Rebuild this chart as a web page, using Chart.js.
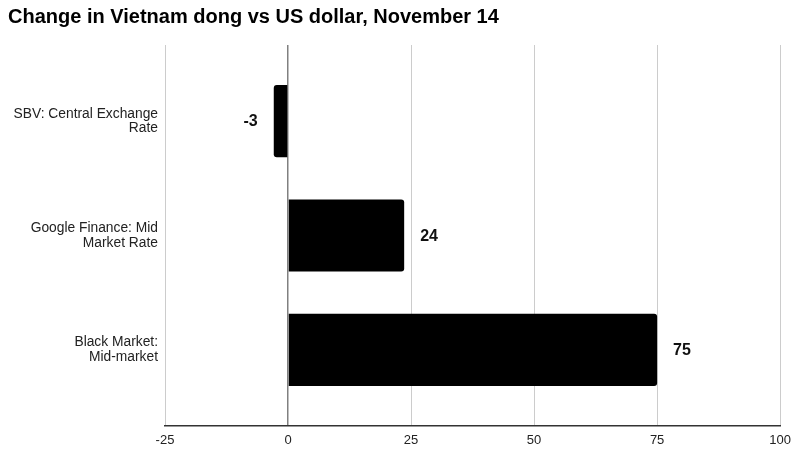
<!DOCTYPE html>
<html lang="en">
  <head>
    <meta charset="UTF-8" />
    <title>Change in Vietnam dong vs US dollar, November 14</title>
    <script src="https://cdn.jsdelivr.net/npm/chart.js"></script>
    <style>
      body { margin: 0; background: #fff; }
      #wrap { width: 798px; height: 453px; }
    </style>
  </head>
  <body>
    <div id="wrap">
      <canvas id="fxChart" width="798" height="453"></canvas>
    </div>

    <script>
      // data
      const categories = [
        ["SBV: Central Exchange", "Rate"],
        ["Google Finance: Mid", "Market Rate"],
        ["Black Market:", "Mid-market"],
      ];
      const changeValues = [-2.9, 23.6, 75];
      const xTicks = [-25, 0, 25, 50, 75, 100];

      const fontFamily = "'Liberation Sans', Arial, sans-serif";

      // value labels beside each bar
      const barLabels = {
        id: "barLabels",
        afterDatasetsDraw(chart) {
          const ctx = chart.ctx;
          const meta = chart.getDatasetMeta(0);
          ctx.save();
          ctx.font = "bold 16px " + fontFamily;
          ctx.fillStyle = "#111";
          ctx.textBaseline = "middle";
          meta.data.forEach((bar, i) => {
            const v = changeValues[i];
            const neg = v < 0;
            ctx.textAlign = neg ? "right" : "left";
            ctx.fillText(String(Math.round(v)), bar.x + (neg ? -16 : 16), bar.y + 1);
          });
          ctx.restore();
        },
      };

      new Chart(document.getElementById("fxChart"), {
        type: "bar",
        data: {
          labels: categories,
          datasets: [
            {
              data: changeValues,
              backgroundColor: "#000",
              borderRadius: 3,
              categoryPercentage: 0.63,
              barPercentage: 1,
            },
          ],
        },
        options: {
          indexAxis: "y",
          responsive: false,
          animation: false,
          layout: { padding: { left: 8, right: 17, bottom: 0 } },
          plugins: {
            legend: { display: false },
            tooltip: { enabled: false },
            title: {
              display: true,
              text: "Change in Vietnam dong vs US dollar, November 14",
              align: "start",
              color: "#000",
              font: { family: fontFamily, size: 20, weight: "bold" },
              padding: { top: 5, bottom: 16 },
            },
          },
          scales: {
            x: {
              min: -25,
              max: 100,
              afterBuildTicks: (s) => {
                s.ticks = xTicks.map((v) => ({ value: v }));
              },
              afterFit: (s) => {
                s.height = 27;
              },
              grid: {
                drawTicks: false,
                color: (c) => (c.tick && c.tick.value === 0 ? "#808080" : "#cccccc"),
                lineWidth: (c) => (c.tick && c.tick.value === 0 ? 1.5 : 1),
              },
              border: { color: "#333", width: 1.5 },
              ticks: {
                padding: 7,
                color: "#222",
                font: { family: fontFamily, size: 13 },
              },
            },
            y: {
              grid: { display: false, drawTicks: false },
              border: { display: false },
              afterFit: (s) => {
                s.width = 157;
              },
              // spread the categories a bit less than the full plot height
              afterBuildTicks: (s) => {
                s._valueRange = 3.33;
                s._startValue = -0.665;
              },
              ticks: {
                padding: 7,
                color: "#222",
                font: { family: fontFamily, size: 13.8, lineHeight: 1.05 },
              },
            },
          },
        },
        plugins: [barLabels],
      });
    </script>
  </body>
</html>
